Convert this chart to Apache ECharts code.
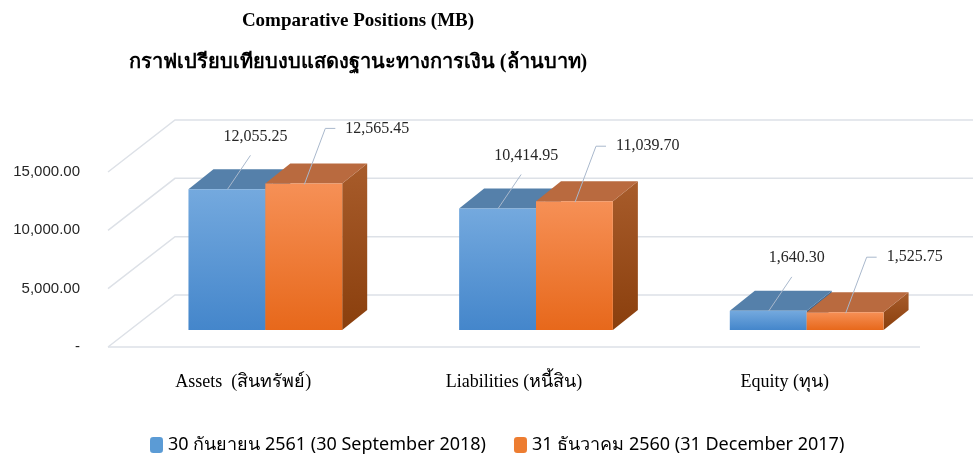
<!DOCTYPE html>
<html>
<head>
<meta charset="utf-8">
<title>Comparative Positions (MB)</title>
<script src="https://cdn.jsdelivr.net/npm/echarts@6/dist/echarts.min.js"></script>
<style>
  html, body { margin: 0; padding: 0; background: #fff; }
  #chart { width: 973px; height: 457px; }
</style>
</head>
<body>
<div id="chart"></div>
<script>
  // ข้อมูล (ล้านบาท)
  const categories = ['Assets  (สินทรัพย์)', 'Liabilities (หนี้สิน)', 'Equity (ทุน)'];
  const seriesNames = ['30 กันยายน 2561 (30 September 2018)', '31 ธันวาคม 2560 (31 December 2017)'];
  const sep2018 = [12055.25, 10414.95, 1640.30];
  const dec2017 = [12565.45, 11039.70, 1525.75];
  const yTicks = [0, 5000, 10000, 15000];

  // 3D look: depth of the floor, and where the bars sit inside it
  const depth = [67, -52];
  const barFront = [22, -17];
  const barDepth = [25, -20];

  const palette = [
    { front: ['#74a9de', '#4486cb'], top: '#5580aa', side: ['#3f6f9e', '#34608c'] },
    { front: ['#f69056', '#e7681b'], top: '#b96a3f', side: ['#a85c2b', '#8a3f0d'] }
  ];

  const fmt = v => v.toLocaleString('en-US', { minimumFractionDigits: 2, maximumFractionDigits: 2 });

  const chart = echarts.init(document.getElementById('chart'));

  function renderWalls(params, api) {
    const cs = params.coordSys;
    const children = [];
    const lineStyle = { stroke: '#dde1e7', lineWidth: 1.5, fill: 'none' };
    yTicks.forEach(v => {
      const y = api.coord([0, v])[1];
      children.push({
        type: 'polyline',
        shape: { points: [[cs.x, y], [cs.x + depth[0], y + depth[1]], [cs.x + cs.width + depth[0], y + depth[1]]] },
        style: lineStyle
      });
    });
    const y0 = api.coord([0, 0])[1];
    children.push({
      type: 'line',
      shape: { x1: cs.x, y1: y0, x2: cs.x + cs.width, y2: y0 },
      style: lineStyle
    });
    return { type: 'group', children: children };
  }

  function makeBarRenderer(si) {
    const c = palette[si];
    return function (params, api) {
      const cat = api.value(0);
      const val = api.value(1);
      const base = api.coord([cat, 0]);
      const top = api.coord([cat, val]);
      const band = api.size([1, 0])[0];
      const bw = band * 0.284;
      const x0 = base[0] + barFront[0] + (si === 0 ? -bw : 0);
      const yb = base[1] + barFront[1];
      const yt = top[1] + barFront[1];
      const dx = barDepth[0], dy = barDepth[1];
      const children = [
        {
          type: 'polygon',
          shape: { points: [[x0 + bw, yt], [x0 + bw + dx, yt + dy], [x0 + bw + dx, yb + dy], [x0 + bw, yb]] },
          style: { fill: new echarts.graphic.LinearGradient(0, 0, 0, 1, [
            { offset: 0, color: c.side[0] }, { offset: 1, color: c.side[1] }]) }
        },
        {
          type: 'polygon',
          shape: { points: [[x0, yt], [x0 + bw, yt], [x0 + bw + dx, yt + dy], [x0 + dx, yt + dy]] },
          style: { fill: c.top }
        },
        {
          type: 'rect',
          shape: { x: x0, y: yt, width: bw, height: yb - yt },
          style: { fill: new echarts.graphic.LinearGradient(0, 0, 0, 1, [
            { offset: 0, color: c.front[0] }, { offset: 1, color: c.front[1] }]) }
        }
      ];
      // data label with leader line
      const txtStyle = { fill: '#262626', font: '16px "Liberation Serif", "Times New Roman", serif' };
      if (si === 0) {
        children.push({
          type: 'line',
          shape: { x1: x0 + 39, y1: yt, x2: x0 + 62, y2: yt - 34 },
          style: { stroke: '#a9b8cc', lineWidth: 1 }
        });
        children.push({
          type: 'text', x: x0 + 67, y: yt - 53,
          style: Object.assign({ text: fmt(val), align: 'center', verticalAlign: 'middle' }, txtStyle)
        });
      } else {
        children.push({
          type: 'polyline',
          shape: { points: [[x0 + 39, yt + 1], [x0 + 60, yt - 55], [x0 + 70, yt - 55]] },
          style: { stroke: '#a9b8cc', lineWidth: 1, fill: 'none' }
        });
        children.push({
          type: 'text', x: x0 + 80, y: yt - 55,
          style: Object.assign({ text: fmt(val), align: 'left', verticalAlign: 'middle' }, txtStyle)
        });
      }
      return { type: 'group', children: children };
    };
  }

  chart.setOption({
    animation: false,
    title: [
      {
        text: 'Comparative Positions (MB)',
        left: 353, top: 7, textAlign: 'center',
        textStyle: { fontFamily: '"Liberation Serif", serif', fontSize: 19, fontWeight: 'bold', color: '#000' }
      },
      {
        text: 'กราฟเปรียบเทียบงบแสดงฐานะทางการเงิน (ล้านบาท)',
        left: 353, top: 48, textAlign: 'center',
        textStyle: { fontFamily: '"Liberation Serif", serif', fontSize: 20, fontWeight: 'bold', color: '#000' }
      }
    ],
    legend: {
      data: seriesNames,
      left: 145, top: 431,
      itemWidth: 13, itemHeight: 16, itemGap: 28,
      textStyle: { fontFamily: '"Noto Sans", "Liberation Sans", sans-serif', fontSize: 18, color: '#000' }
    },
    grid: { left: 108, right: 53, top: 172, bottom: 110 },
    xAxis: {
      type: 'category',
      data: categories,
      axisLine: { show: false },
      axisTick: { show: false },
      axisLabel: {
        margin: 26,
        color: '#000',
        fontSize: 18,
        fontFamily: '"Liberation Serif", "Times New Roman", serif'
      }
    },
    yAxis: {
      type: 'value',
      min: 0, max: 15000, interval: 5000,
      splitLine: { show: false },
      axisLine: { show: false },
      axisTick: { show: false },
      axisLabel: {
        margin: 28,
        color: '#262626',
        fontSize: 15,
        fontFamily: '"Liberation Sans", "Open Sans", sans-serif',
        formatter: v => v === 0 ? '-' : fmt(v)
      }
    },
    series: [
      {
        type: 'custom',
        name: 'walls',
        silent: true,
        z: 1,
        data: [[0, 0]],
        encode: { x: 0, y: 1 },
        renderItem: renderWalls
      },
      {
        type: 'custom',
        name: seriesNames[0],
        z: 2,
        clip: false,
        itemStyle: { color: '#5b9bd5' },
        data: sep2018.map((v, i) => [i, v]),
        encode: { x: 0, y: 1 },
        renderItem: makeBarRenderer(0)
      },
      {
        type: 'custom',
        name: seriesNames[1],
        z: 3,
        clip: false,
        itemStyle: { color: '#ed7d31' },
        data: dec2017.map((v, i) => [i, v]),
        encode: { x: 0, y: 1 },
        renderItem: makeBarRenderer(1)
      }
    ]
  });
</script>
</body>
</html>
